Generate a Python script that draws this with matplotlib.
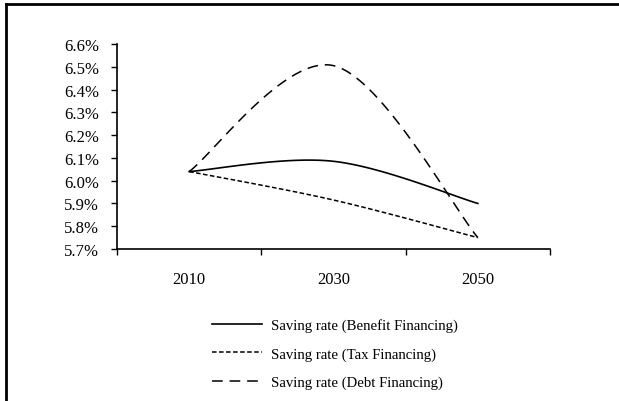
import numpy as np
import matplotlib
matplotlib.use("Agg")
import matplotlib.pyplot as plt
from matplotlib.lines import Line2D
from matplotlib.ticker import FuncFormatter

# Datos (tasa de ahorro, %)
years = ["2010", "2030", "2050"]
benefit = [6.04, 6.085, 5.90]
tax = [6.04, 5.915, 5.75]
debt = [6.04, 6.505, 5.75]

plt.rcParams["font.family"] = ["Liberation Serif", "DejaVu Serif"]


def smooth(xs, ys, n=60):
    # curva suavizada tipo Excel (Bezier de Catmull-Rom)
    p = np.column_stack([xs, ys]).astype(float)
    ext = np.vstack([p[0], p, p[-1]])
    out = []
    t = np.linspace(0, 1, n)[:, None]
    for i in range(len(p) - 1):
        p0, p1, p2, p3 = ext[i], ext[i + 1], ext[i + 2], ext[i + 3]
        c1 = p1 + (p2 - p0) / 6
        c2 = p2 - (p3 - p1) / 6
        seg = ((1 - t) ** 3) * p1 + 3 * ((1 - t) ** 2) * t * c1 + 3 * (1 - t) * t ** 2 * c2 + t ** 3 * p2
        out.append(seg)
    s = np.vstack(out)
    return s[:, 0], s[:, 1]


fig = plt.figure(figsize=(6.19, 4.02), dpi=100)
ax = fig.add_axes([117 / 619, 1 - 250 / 402, (550 - 117) / 619, (250 - 45) / 402])

x = np.arange(len(years))
sx, sy = smooth(x, benefit)
ax.plot(sx, sy, color="black", lw=1.2, label="Saving rate (Benefit Financing)")
sx, sy = smooth(x, tax)
ax.plot(sx, sy, color="black", lw=1.1, linestyle=(0, (3, 1.6)), label="Saving rate (Tax Financing)")
sx, sy = smooth(x, debt)
ax.plot(sx, sy, color="black", lw=1.1, linestyle=(0, (7, 4.5)), label="Saving rate (Debt Financing)")

ax.set_xlim(-0.5, 2.5)
ax.set_ylim(5.7, 6.6)
ax.set_yticks(np.arange(5.7, 6.61, 0.1))
ax.yaxis.set_major_formatter(FuncFormatter(lambda v, p: f"{v:.1f}%"))
ax.set_xticks([-0.5, 0.5, 1.5, 2.5])
ax.set_xticklabels([])
ax.set_xticks(x, minor=True)
ax.set_xticklabels(years, minor=True)
ax.tick_params(axis="x", which="minor", length=0, pad=16, labelsize=12)
ax.tick_params(axis="x", which="major", direction="out", length=4, width=1)
ax.tick_params(axis="y", direction="out", length=4, width=1, pad=9, labelsize=12)

for s in ["top", "right"]:
    ax.spines[s].set_visible(False)
for s in ["left", "bottom"]:
    ax.spines[s].set_linewidth(1.2)

fs = 10.6
fig.legend(loc="upper left", bbox_to_anchor=(212 / 619, 1 - 319 / 402), frameon=False,
           fontsize=fs, handlelength=3.4, handletextpad=0.58, labelspacing=1.03,
           borderpad=0, borderaxespad=0)

# marco de la figura (solo arriba e izquierda visibles)
fig.add_artist(Line2D([6 / 619, 1], [1 - 5 / 402, 1 - 5 / 402], color="black", lw=2, transform=fig.transFigure))
fig.add_artist(Line2D([6 / 619, 6 / 619], [0, 1 - 5 / 402], color="black", lw=2, transform=fig.transFigure))

fig.savefig("out.png", dpi=100)
